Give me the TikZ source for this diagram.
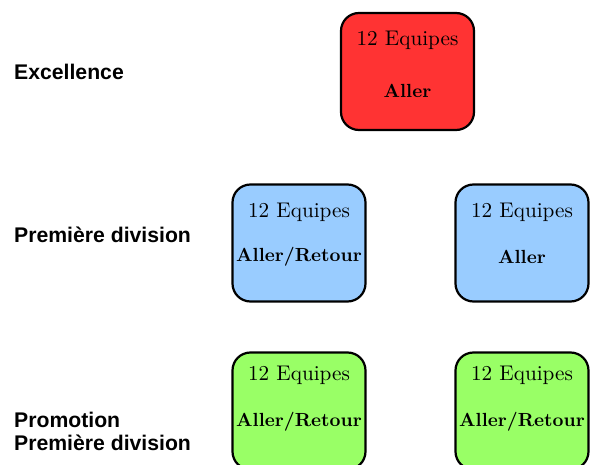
\documentclass[tikz,border=0pt]{standalone}
\usepackage{fontspec}
\usepackage{graphicx}
\newfontfamily\labelfont{Liberation Sans}
\newcommand{\toptxt}[1]{\scalebox{2.12}{\fontsize{10}{12}\selectfont #1}}
\newcommand{\bottxt}[1]{\scalebox{1.9}{\fontsize{10}{12}\selectfont\bfseries #1}}
\begin{document}
\begin{tikzpicture}[x=1pt,y=-1pt,
 box/.style={draw=black, line width=2.2pt, rounded corners=18pt, minimum width=133pt, minimum height=117pt, inner sep=0pt},
 toptext/.style={inner sep=0pt},
 bottext/.style={inner sep=0pt},
 lab/.style={font=\labelfont\bfseries\fontsize{21.2}{24}\selectfont, anchor=west, inner sep=0pt, align=left}]
\useasboundingbox (0,0) rectangle (590,465);
\clip (0,0) rectangle (590,465);
\definecolor{boxred}{HTML}{FF3333}
\definecolor{boxblue}{HTML}{99CCFF}
\definecolor{boxgreen}{HTML}{99FF66}
% boxes
\node[box, fill=boxred] (exc) at (407.5,71.5) {};
\node[box, fill=boxblue] (pd1) at (299,243) {};
\node[box, fill=boxblue] (pd2) at (522,243) {};
\node[box, fill=boxgreen] (pp1) at (299,411) {};
\node[box, fill=boxgreen] (pp2) at (522,411) {};
% texts
\node[toptext] (exct) at (407.5,40) {\toptxt{12 Equipes}};
\node[bottext] (excb) at (407.5,91) {\bottxt{Aller}};
\node[toptext] (pd1t) at (299,212) {\toptxt{12 Equipes}};
\node[bottext] (pd1b) at (299,257) {\bottxt{Aller/Retour}};
\node[toptext] (pd2t) at (522,212) {\toptxt{12 Equipes}};
\node[bottext] (pd2b) at (522,257) {\bottxt{Aller}};
\node[toptext] (pp1t) at (299,375) {\toptxt{12 Equipes}};
\node[bottext] (pp1b) at (299,422) {\bottxt{Aller/Retour}};
\node[toptext] (pp2t) at (522,375) {\toptxt{12 Equipes}};
\node[bottext] (pp2b) at (522,422) {\bottxt{Aller/Retour}};
% labels
\node[lab] (l1) at (14,72) {Excellence};
\node[lab] (l2) at (14,235) {Première division};
\node[lab] (l3) at (14,431) {Promotion\\[-1pt]Première division};
\end{tikzpicture}
\end{document}
